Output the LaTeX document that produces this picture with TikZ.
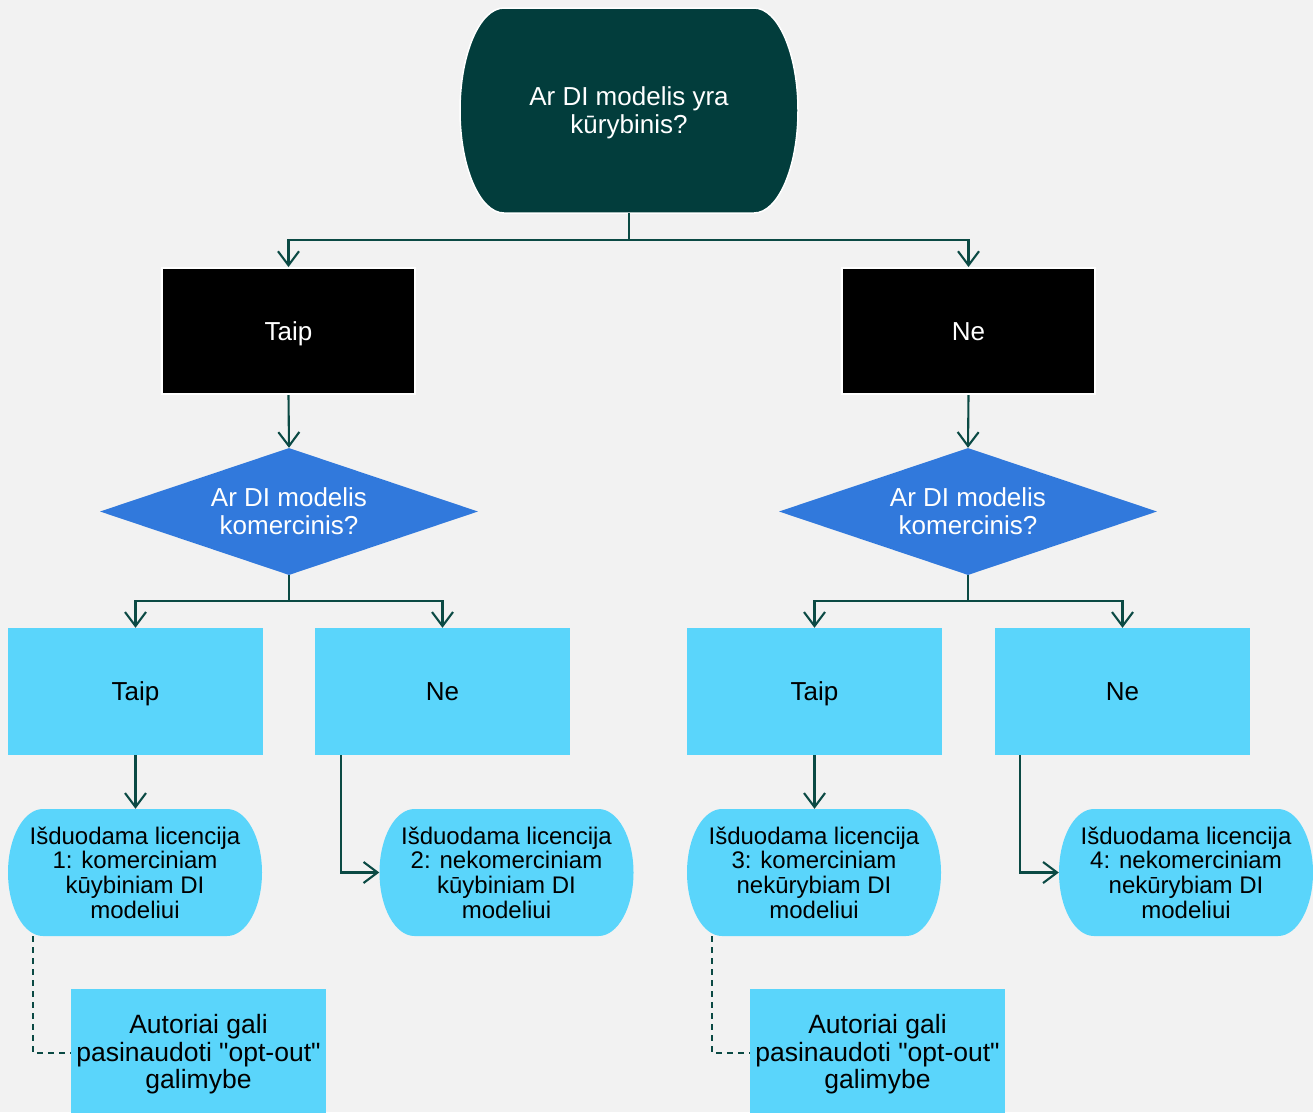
\documentclass[tikz,border=0pt]{standalone}
\usepackage{fontspec}
\setmainfont{Liberation Sans}
\newfontfamily\quotefont{Liberation Sans}
\usetikzlibrary{arrows.meta,shapes.geometric,calc}
\definecolor{bgcol}{HTML}{F2F2F2}
\definecolor{darkteal}{HTML}{023D3C}
\definecolor{conncol}{HTML}{0B4A44}
\definecolor{dblue}{HTML}{3179DC}
\definecolor{lblue}{HTML}{5AD5FB}
% #1 cx, #2 cy, #3 half width, #4 half height, #5 end x-radius, #6 options
\newcommand\stadiumshape[6]{%
  \path[#6] ({#1-#3+#5},{#2-#4}) -- ({#1+#3-#5},{#2-#4})
    arc[start angle=-90,end angle=90,x radius=#5,y radius=#4]
    -- ({#1-#3+#5},{#2+#4})
    arc[start angle=90,end angle=270,x radius=#5,y radius=#4] -- cycle;}
\newcommand\dq{{\quotefont"}}
\begin{document}
\begin{tikzpicture}[x=1pt,y=-1pt,
  bigtxt/.style={align=center,font=\fontsize{26}{28}\selectfont,inner sep=0pt},
  onetxt/.style={font=\fontsize{26}{28}\selectfont,inner sep=0pt,text height=18.6pt,text depth=0pt},
  topbox/.style={bigtxt,rectangle,minimum width=338pt,minimum height=205pt,text=white},
  topshape/.style={fill=darkteal,draw=white,line width=1.5pt},
  blackbox/.style={onetxt,rectangle,fill=black,draw=white,line width=2pt,text=white,minimum width=253pt,minimum height=126pt},
  question/.style={bigtxt,diamond,shape aspect=2.98,fill=dblue,text=white,minimum width=378pt,minimum height=127pt},
  answerbox/.style={onetxt,rectangle,fill=lblue,text=black,minimum width=255pt,minimum height=127pt},
  licbox/.style={align=center,font=\fontsize{24}{24.7}\selectfont,inner sep=0pt,rectangle,text=black,minimum width=254pt,minimum height=127pt},
  licshape/.style={fill=lblue},
  notebox/.style={align=center,font=\fontsize{26.5}{27.5}\selectfont,inner sep=0pt,rectangle,fill=lblue,text=black,minimum width=255pt,minimum height=131pt},
  conn/.style={draw=conncol,line width=2.1pt,-{Straight Barb[length=14pt,width=21pt]}},
  dashline/.style={draw=conncol,line width=2pt,dash pattern=on 6pt off 5pt}]
\fill[bgcol] (0,0) rectangle (1313,1112);
\useasboundingbox (0,0) rectangle (1313,1112);

% top terminator
\stadiumshape{629}{110.5}{169}{102.5}{44}{topshape}
\node[topbox] (top) at (629,110.5) {};
\node[bigtxt,text=white] (toptext) at (629,112.5) {Ar DI modelis yra\\kūrybinis?};

% first level
\node[blackbox] (yes) at (288.5,331) {Taip};
\node[blackbox] (no) at (968.5,331) {Ne};

% decisions
\node[question] (q1) at (289,511.5) {Ar DI modelis\\komercinis?};
\node[question] (q2) at (968,511.5) {Ar DI modelis\\komercinis?};

% answers
\node[answerbox] (a1) at (135.5,691.5) {Taip};
\node[answerbox] (a2) at (442.5,691.5) {Ne};
\node[answerbox] (a3) at (814.5,691.5) {Taip};
\node[answerbox] (a4) at (1122.5,691.5) {Ne};

% licences
\stadiumshape{135}{872.5}{127}{63.5}{35}{licshape}
\node[licbox] (l1) at (135,872.5) {Išduodama licencija\\1: komerciniam\\kūybiniam DI\\modeliui};
\stadiumshape{506.5}{872.5}{127}{63.5}{35}{licshape}
\node[licbox] (l2) at (506.5,872.5) {Išduodama licencija\\2: nekomerciniam\\kūybiniam DI\\modeliui};
\stadiumshape{814}{872.5}{127}{63.5}{35}{licshape}
\node[licbox] (l3) at (814,872.5) {Išduodama licencija\\3: komerciniam\\nekūrybiam DI\\modeliui};
\stadiumshape{1186}{872.5}{127}{63.5}{35}{licshape}
\node[licbox] (l4) at (1186,872.5) {Išduodama licencija\\4: nekomerciniam\\nekūrybiam DI\\modeliui};

% notes
\node[notebox] (n1) at (198.5,1054.5) {Autoriai gali\\pasinaudoti \dq opt-out\dq\\galimybe};
\node[notebox] (n2) at (877.5,1054.5) {Autoriai gali\\pasinaudoti \dq opt-out\dq\\galimybe};
\coordinate (n1in) at (n1.west |- 0,1053);
\coordinate (n2in) at (n2.west |- 0,1053);

% connectors
\draw[conn] (top.south) -- ++(0,27) -| (yes.north);
\draw[conn] (top.south) -- ++(0,27) -| (no.north);
\draw[conn] (yes.south) -- (q1.north);
\draw[conn] (no.south) -- (q2.north);
\draw[conn] (q1.south) -- ++(0,26) -| (a1.north);
\draw[conn] (q1.south) -- ++(0,26) -| (a2.north);
\draw[conn] (q2.south) -- ++(0,26) -| (a3.north);
\draw[conn] (q2.south) -- ++(0,26) -| (a4.north);
\draw[conn] (a1.south) -- (a1.south |- l1.north);
\draw[conn] ([xshift=26pt]a2.south west) |- (l2.west);
\draw[conn] (a3.south) -- (a3.south |- l3.north);
\draw[conn] ([xshift=25pt]a4.south west) |- (l4.west);
\draw[dashline] ([xshift=25pt]l1.south west) |- (n1in);
\draw[dashline] ([xshift=25pt]l3.south west) |- (n2in);
\end{tikzpicture}
\end{document}
